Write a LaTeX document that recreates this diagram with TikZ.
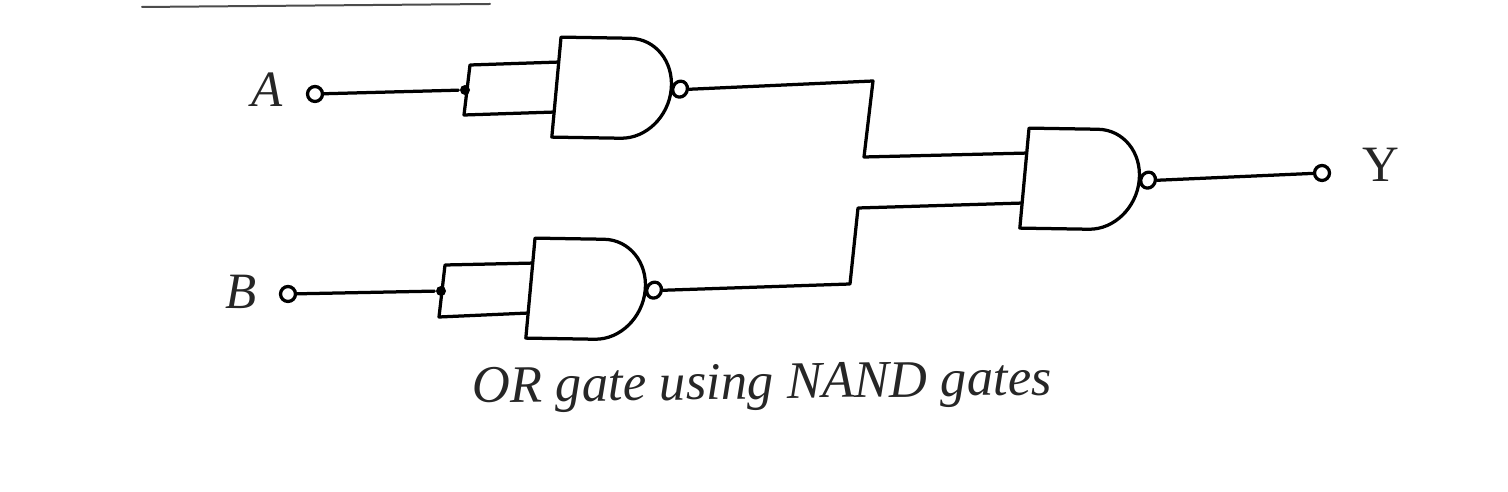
\documentclass[tikz,border=0pt]{standalone}
\usepackage{fontspec}
\setmainfont{Liberation Serif}
\usetikzlibrary{positioning, shapes.gates.logic.US}

\begin{document}
\begin{tikzpicture}[x=0.02cm, y=0.02cm, line width=0.065cm, line join=round, line cap=round,
    nandbox/.style={nand gate US, draw, inner sep=0pt, logic gate inputs=nnn,
      logic gate input sep=0.5cm,
      logic gate inverted radius=0.16cm, xscale=0.92, xslant=0.1, yslant=-0.015},
    terminal/.style={circle, draw, fill=white, inner sep=0pt, minimum size=0.3cm},
    junction/.style={circle, fill=black, inner sep=0pt, minimum size=0.2cm},
    label/.style={font=\fontsize{29}{32}\selectfont, inner sep=0pt, text=black!85}]
    \useasboundingbox (0,-492) rectangle (1508,0);
    % gates
    \node[nandbox] (g1) at (610,-88) {};
    \node[nandbox] (g2) at (584,-289) {};
    \node[nandbox] (g3) at (1078,-179) {};
    % inputs and output
    \node[label] (lA) at (267,-90) {\itshape A};
    \node[label] (lB) at (241,-292) {\itshape B};
    \node[label] (lY) at (1381,-165) {Y};
    \node[terminal] (inA) at (315,-94) {};
    \node[terminal] (inB) at (288,-294) {};
    \node[terminal] (outY) at (1322,-173) {};
    \node[junction] (jA) at (465,-90) {};
    \node[junction] (jB) at (441,-291) {};
    % corners of the wires
    \coordinate (a1) at (470,-65);
    \coordinate (a2) at (464,-115);
    \coordinate (b1) at (445,-265);
    \coordinate (b2) at (439,-317);
    \coordinate (c1) at (873,-81);
    \coordinate (c2) at (864,-157);
    \coordinate (d1) at (850,-284);
    \coordinate (d2) at (858,-208);
    % wires
    \draw (inA) -- (jA);
    \draw (inB) -- (jB);
    \draw (g1.input 1) -- (a1) -- (a2) -- (g1.input 3);
    \draw (g2.input 1) -- (b1) -- (b2) -- (g2.input 3);
    \draw (g1.output) -- (c1) -- (c2) -- (g3.input 1);
    \draw (g2.output) -- (d1) -- (d2) -- (g3.input 3);
    \draw (g3.output) -- (outY);
    % caption
    \node[label, font=\fontsize{30}{32}\selectfont, rotate=0.8] (cap) at (762,-387) {\itshape OR gate using NAND gates};
    % cut off rule at the top edge
    \draw[line width=0.04cm, black!70] (142,-7) -- (490,-4);
\end{tikzpicture}
\end{document}
